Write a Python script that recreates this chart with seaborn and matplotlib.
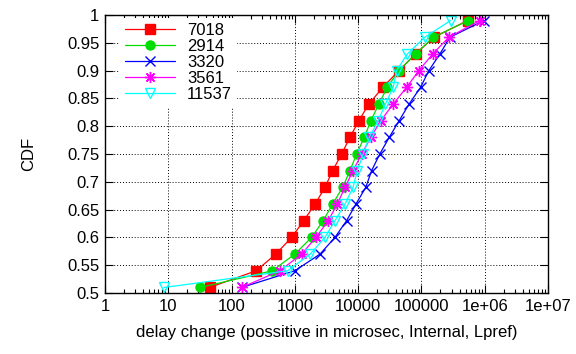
import numpy as np
import pandas as pd
import matplotlib
matplotlib.use("Agg")
import matplotlib.pyplot as plt
import seaborn as sns
from matplotlib.ticker import FixedLocator, FixedFormatter, LogLocator, NullFormatter

# ---- data ----
cdf = [0.51, 0.54, 0.57, 0.60, 0.63, 0.66, 0.69, 0.72, 0.75, 0.78,
       0.81, 0.84, 0.87, 0.90, 0.93, 0.96, 0.99]

s7018 = [45, 245, 500, 890, 1380, 2090, 2990, 3950, 5490, 7420,
         10270, 14800, 24600, 44100, 81000, 157000, 537000]
s2914 = [32, 440, 1000, 1840, 2800, 3950, 5690, 7420, 9460, 12500,
         15900, 21300, 28800, 44100, 81000, 154000, 550000]
s3320 = [145, 1000, 2500, 4300, 6560, 9230, 13200, 16300, 22000, 31000,
         44500, 64000, 97000, 131000, 196000, 282000, 970000]
s3561 = [145, 580, 1280, 2150, 3370, 4680, 6200, 8300, 11400, 15800,
         22900, 35800, 58500, 91000, 151000, 271000, 836000]
s11537 = [8.7, 767, 1750, 2990, 4300, 6200, 8300, 9700, 12000, 15000,
          20800, 27000, 35800, 40500, 60000, 113000, 288000]

labels = ["7018", "2914", "3320", "3561", "11537"]
series = [s7018, s2914, s3320, s3561, s11537]

xtick_vals = [1, 10, 100, 1000, 10000, 100000, 1e6, 1e7]
xtick_labels = ["1", "10", "100", "1000", "10000", "100000", "1e+06", "1e+07"]
ytick_vals = [0.5, 0.55, 0.6, 0.65, 0.7, 0.75, 0.8, 0.85, 0.9, 0.95, 1.0]
ytick_labels = ["0.5", "0.55", "0.6", "0.65", "0.7", "0.75", "0.8", "0.85", "0.9", "0.95", "1"]

# ---- styling ----
sns.set_theme(style="white")
plt.rcParams["font.family"] = ["Liberation Sans", "DejaVu Sans"]
plt.rcParams["font.size"] = 12
for k in ["text.color", "axes.labelcolor", "xtick.color", "ytick.color"]:
    plt.rcParams[k] = "black"

colors = ["#ff0000", "#00dd00", "#0000ff", "#ff00ff", "#00ffff"]
markers = ["s", "o", "x", (8, 2, 0), "v"]
msizes = [7.5, 6.5, 7.5, 8, 7.5]

fig = plt.figure(figsize=(5.76, 3.54), dpi=100)
ax = fig.add_axes([105 / 576, 1 - 293 / 354, (548 - 105) / 576, (293 - 15) / 354])

frames = []
for lab, vals in zip(labels, series):
    frames.append(pd.DataFrame({"x": vals, "y": cdf, "series": lab}))
df = pd.concat(frames, ignore_index=True)

for lab, col, mk, ms in zip(labels, colors, markers, msizes):
    sub = df[df["series"] == lab]
    kw = dict(color=col, marker=mk, markersize=ms, linewidth=0.9,
              markeredgewidth=1.0, markeredgecolor=col)
    if mk == "v":
        kw["markerfacecolor"] = "none"
    else:
        kw["markerfacecolor"] = col
    sns.lineplot(data=sub, x="x", y="y", ax=ax, estimator=None, sort=False,
                 label=lab, **kw)

ax.set_xscale("log")
ax.set_xlim(1, 1e7)
ax.set_ylim(0.5, 1.0)

ax.xaxis.set_major_locator(FixedLocator(xtick_vals))
ax.xaxis.set_major_formatter(FixedFormatter(xtick_labels))
ax.xaxis.set_minor_locator(LogLocator(base=10, subs=np.arange(2, 10)))
ax.xaxis.set_minor_formatter(NullFormatter())
ax.yaxis.set_major_locator(FixedLocator(ytick_vals))
ax.yaxis.set_major_formatter(FixedFormatter(ytick_labels))

ax.tick_params(axis="both", which="major", direction="in", length=6, width=0.8,
               top=True, right=True, bottom=True, left=True, labelsize=12,
               colors="black", pad=4)
ax.tick_params(axis="x", which="minor", direction="in", length=3, width=0.8,
               top=True, bottom=True, colors="black")

ax.grid(True, which="major", color="black", linestyle=(0, (1, 2)), linewidth=0.7)
ax.set_axisbelow(True)
for sp in ax.spines.values():
    sp.set_color("black")
    sp.set_linewidth(1.0)
    sp.set_visible(True)

ax.set_xlabel("delay change (possitive in microsec, Internal, Lpref)", fontsize=12,
              labelpad=8, color="black")
ax.set_ylabel("CDF", fontsize=12, labelpad=22, color="black")

leg = ax.legend(loc="upper left", bbox_to_anchor=(0.027, 1.0), frameon=True,
                fontsize=12, handlelength=3.0, handletextpad=0.7, labelspacing=0.05,
                borderpad=0.3, borderaxespad=0.2, facecolor="white",
                edgecolor="white", framealpha=1.0, fancybox=False)
leg.get_frame().set_linewidth(0)
for t in leg.get_texts():
    t.set_color("black")

fig.savefig("out.png", dpi=100)
